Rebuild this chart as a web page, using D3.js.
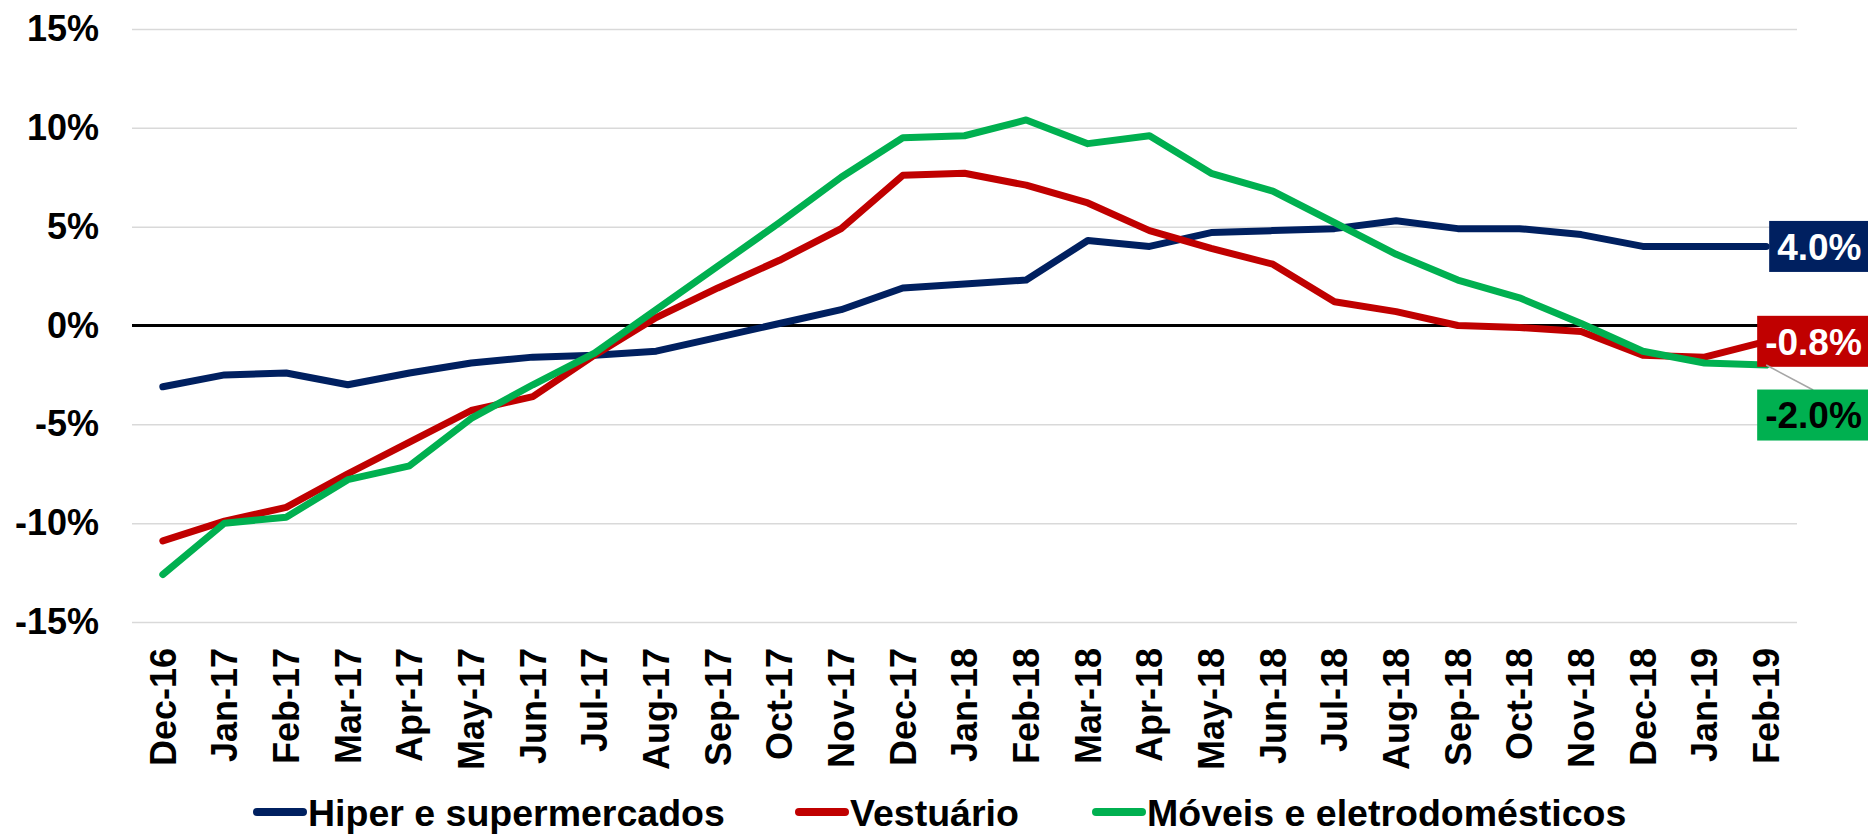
<!DOCTYPE html>
<html>
<head>
<meta charset="utf-8">
<script src="https://cdn.jsdelivr.net/npm/d3@7"></script>
<style>
  body { margin: 0; background: #fff; }
  text { font-family: "Liberation Sans", Arial, sans-serif; font-weight: bold; }
</style>
</head>
<body>
<script>
// months on the x axis
var months = ["Dec-16", "Jan-17", "Feb-17", "Mar-17", "Apr-17", "May-17", "Jun-17", "Jul-17",
  "Aug-17", "Sep-17", "Oct-17", "Nov-17", "Dec-17", "Jan-18", "Feb-18", "Mar-18", "Apr-18",
  "May-18", "Jun-18", "Jul-18", "Aug-18", "Sep-18", "Oct-18", "Nov-18", "Dec-18", "Jan-19", "Feb-19"];

// series values (%)
var hiper = [-3.1, -2.5, -2.4, -3.0, -2.4, -1.9, -1.6, -1.5, -1.3, -0.6, 0.1, 0.8, 1.9, 2.1, 2.3,
  4.3, 4.0, 4.7, 4.8, 4.9, 5.3, 4.9, 4.9, 4.6, 4.0, 4.0, 4.0];
var vestuario = [-10.9, -9.9, -9.2, -7.5, -5.9, -4.3, -3.6, -1.5, 0.4, 1.9, 3.3, 4.9, 7.6, 7.7, 7.1,
  6.2, 4.8, 3.9, 3.1, 1.2, 0.7, 0.0, -0.1, -0.3, -1.5, -1.6, -0.8];
var moveis = [-12.6, -10.0, -9.7, -7.8, -7.1, -4.7, -3.0, -1.4, 0.8, 3.0, 5.2, 7.5, 9.5, 9.6, 10.4,
  9.2, 9.6, 7.7, 6.8, 5.2, 3.6, 2.3, 1.4, 0.1, -1.3, -1.9, -2.0];

var seriesNames = ["Hiper e supermercados", "Vestuário", "Móveis e eletrodomésticos"];
var yTicks = [-15, -10, -5, 0, 5, 10, 15];

var svgWidth = 1868;
var svgHeight = 835;

var margin = { top: 29, right: 71, bottom: 213, left: 132 };
var width = svgWidth - margin.left - margin.right;
var height = svgHeight - margin.top - margin.bottom;

var colors = ["#002060", "#C00000", "#00B050"];
var series = [hiper, vestuario, moveis];

var svg = d3.select("body")
  .append("svg")
  .attr("width", svgWidth)
  .attr("height", svgHeight);

var chartGroup = svg.append("g")
  .attr("transform", `translate(${margin.left}, ${margin.top})`);

var xBandScale = d3.scaleBand()
  .domain(months)
  .range([0, width]);

var xCenter = d => xBandScale(d) + xBandScale.bandwidth() / 2;

var yLinearScale = d3.scaleLinear()
  .domain([-15, 15])
  .range([height, 0]);

// gridlines + tick labels
var leftAxis = d3.axisLeft(yLinearScale)
  .tickValues(yTicks)
  .tickSize(-width)
  .tickPadding(33)
  .tickFormat(d => d + "%");

var yAxisG = chartGroup.append("g").call(leftAxis);
yAxisG.select(".domain").remove();
yAxisG.selectAll("line").attr("stroke", "#D9D9D9").attr("stroke-width", 1.5);
yAxisG.selectAll("text").attr("fill", "#000").style("font-size", "36px");

// zero line
chartGroup.append("line")
  .attr("x1", 0)
  .attr("x2", width)
  .attr("y1", yLinearScale(0))
  .attr("y2", yLinearScale(0))
  .attr("stroke", "#000")
  .attr("stroke-width", 3);

// x axis labels, rotated
var bottomAxis = d3.axisBottom(xBandScale).tickSize(0);
var xAxisG = chartGroup.append("g")
  .attr("transform", `translate(0, ${height})`)
  .call(bottomAxis);
xAxisG.select(".domain").remove();
xAxisG.selectAll("text")
  .attr("transform", "rotate(-90)")
  .attr("text-anchor", "end")
  .attr("x", -26)
  .attr("y", 0)
  .attr("dy", "0.36em")
  .attr("fill", "#000")
  .style("font-size", "36px");

// lines
var line = d3.line()
  .x((d, i) => xCenter(months[i]))
  .y(d => yLinearScale(d));

series.forEach(function(s, k) {
  chartGroup.append("path")
    .datum(s)
    .attr("fill", "none")
    .attr("stroke", colors[k])
    .attr("stroke-width", 7)
    .attr("stroke-linejoin", "round")
    .attr("stroke-linecap", "round")
    .attr("d", line);
});

// end labels
var last = months.length - 1;
var lx = xCenter(months[last]);
var labelDy = [0, 0, 50];
var labelDx = [3, -9, -9];
var textColors = ["#fff", "#fff", "#000"];

series.forEach(function(s, k) {
  var v = s[last];
  var cy = yLinearScale(v) + labelDy[k];
  if (labelDy[k] !== 0) {
    chartGroup.append("line")
      .attr("x1", lx)
      .attr("y1", yLinearScale(v))
      .attr("x2", lx + 47)
      .attr("y2", cy - 25)
      .attr("stroke", "#A6A6A6")
      .attr("stroke-width", 1.5);
  }
  var txt = chartGroup.append("text")
    .attr("x", lx + labelDx[k] + 8)
    .attr("y", cy)
    .attr("dy", "0.36em")
    .attr("fill", textColors[k])
    .style("font-size", "37px")
    .text(v.toFixed(1) + "%");
  var w = txt.node().getComputedTextLength();
  chartGroup.insert("rect", function() { return txt.node(); })
    .attr("x", lx + labelDx[k])
    .attr("y", cy - 25.5)
    .attr("width", w + 16)
    .attr("height", 51)
    .attr("fill", colors[k]);
});

// legend
var legendX = [253, 795, 1092];
var legendY = 812;
var legend = svg.append("g");
seriesNames.forEach(function(name, k) {
  legend.append("line")
    .attr("x1", legendX[k] + 4)
    .attr("x2", legendX[k] + 50)
    .attr("y1", legendY)
    .attr("y2", legendY)
    .attr("stroke", colors[k])
    .attr("stroke-width", 8)
    .attr("stroke-linecap", "round");
  legend.append("text")
    .attr("x", legendX[k] + 55)
    .attr("y", legendY)
    .attr("dy", "0.36em")
    .attr("fill", "#000")
    .style("font-size", "37.5px")
    .text(name);
});
</script>
</body>
</html>
